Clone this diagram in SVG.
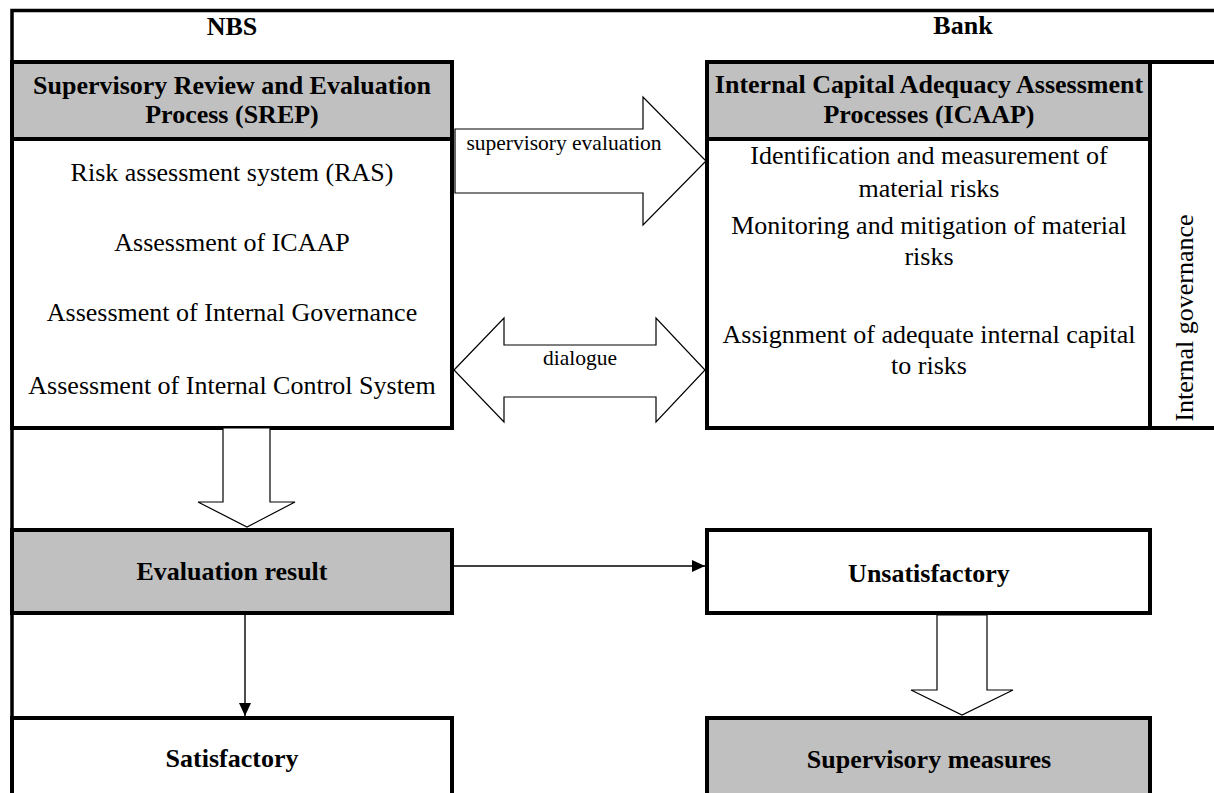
<svg xmlns="http://www.w3.org/2000/svg" width="1214" height="793" viewBox="0 0 1214 793">
  <style>
    .frame { fill: none; stroke: #000; stroke-width: 3.5; }
    .box { fill: #fff; stroke: #000; stroke-width: 4; }
    .grey { fill: #c0c0c0; stroke: #000; stroke-width: 4; }
    .block { fill: #fff; stroke: #000; stroke-width: 1.2; stroke-linejoin: miter; }
    .line { fill: none; stroke: #000; stroke-width: 1.4; }
    .hd { font-family: "Liberation Serif", "Times New Roman", serif; font-weight: bold; font-size: 26px; text-anchor: middle; fill: #000; }
    .tx { font-family: "Liberation Serif", "Times New Roman", serif; font-size: 26px; text-anchor: middle; fill: #000; }
    .sm { font-family: "Liberation Serif", "Times New Roman", serif; font-size: 21.5px; text-anchor: middle; fill: #000; }
  </style>
  <defs>
    <marker id="tip" markerUnits="userSpaceOnUse" markerWidth="13" markerHeight="12" refX="13" refY="6" orient="auto">
      <path d="M0,0 L13,6 L0,12 Z" fill="#000"/>
    </marker>
  </defs>

  <rect width="1214" height="793" fill="#fff"/>

  <!-- outer table frame -->
  <path class="frame" d="M12,793 V10.5 H1214"/>

  <g id="nbs-header">
    <text class="hd" x="232" y="35">NBS</text>
  </g>
  <g id="bank-header">
    <text class="hd" x="963" y="34">Bank</text>
  </g>

  <g id="srep-header">
    <rect class="grey" x="12" y="62" width="440" height="77"/>
    <text class="hd" x="232" y="94">Supervisory Review and Evaluation</text>
    <text class="hd" x="232" y="123">Process (SREP)</text>
  </g>
  <g id="srep-body">
    <rect class="box" x="12" y="139" width="440" height="289"/>
    <text class="tx" x="232" y="181">Risk assessment system (RAS)</text>
    <text class="tx" x="232" y="251">Assessment of ICAAP</text>
    <text class="tx" x="232" y="321">Assessment of Internal Governance</text>
    <text class="tx" x="232" y="394">Assessment of Internal Control System</text>
  </g>

  <g id="icaap-header">
    <rect class="grey" x="707" y="62" width="443" height="77"/>
    <text class="hd" x="929" y="93">Internal Capital Adequacy Assessment</text>
    <text class="hd" x="929" y="123">Processes (ICAAP)</text>
  </g>
  <g id="icaap-body">
    <rect class="box" x="707" y="139" width="443" height="289"/>
    <text class="tx" x="929" y="164">Identification and measurement of</text>
    <text class="tx" x="929" y="197">material risks</text>
    <text class="tx" x="929" y="234">Monitoring and mitigation of material</text>
    <text class="tx" x="929" y="265">risks</text>
    <text class="tx" x="929" y="343">Assignment of adequate internal capital</text>
    <text class="tx" x="929" y="374">to risks</text>
  </g>
  <g id="internal-governance">
    <rect class="box" x="1150" y="62" width="100" height="366"/>
    <text class="tx" transform="translate(1193,318) rotate(-90)">Internal governance</text>
  </g>

  <g id="evaluation-result">
    <rect class="grey" x="12" y="530" width="440" height="83"/>
    <text class="hd" x="232" y="580">Evaluation result</text>
  </g>
  <g id="satisfactory">
    <rect class="box" x="12" y="718" width="440" height="110"/>
    <text class="hd" x="232" y="767">Satisfactory</text>
  </g>
  <g id="unsatisfactory">
    <rect class="box" x="707" y="530" width="443" height="83"/>
    <text class="hd" x="929" y="582">Unsatisfactory</text>
  </g>
  <g id="supervisory-measures">
    <rect class="grey" x="707" y="718" width="443" height="110"/>
    <text class="hd" x="929" y="768">Supervisory measures</text>
  </g>

  <g id="connectors">
    <!-- supervisory evaluation: block arrow SREP -> ICAAP -->
    <polygon class="block" points="455,129 643,129 643,97 706,161 643,225 643,193 455,193"/>
    <text class="sm" x="564" y="150">supervisory evaluation</text>

    <!-- dialogue: double block arrow -->
    <polygon class="block" points="454,370 504,318 504,345 656,345 656,318 705,370 656,422 656,397 504,397 504,422"/>
    <text class="sm" x="580" y="365">dialogue</text>

    <!-- SREP -> evaluation result -->
    <polygon class="block" points="223,428 270,428 270,502 295,502 247,527 198,502 223,502"/>

    <!-- unsatisfactory -> supervisory measures -->
    <polygon class="block" points="937,615 987,615 987,690 1013,690 962,715 911,690 937,690"/>

    <!-- evaluation result -> unsatisfactory / satisfactory -->
    <line class="line" x1="454" y1="566" x2="705" y2="566" marker-end="url(#tip)"/>
    <line class="line" x1="245" y1="615" x2="245" y2="716" marker-end="url(#tip)"/>
  </g>
</svg>
